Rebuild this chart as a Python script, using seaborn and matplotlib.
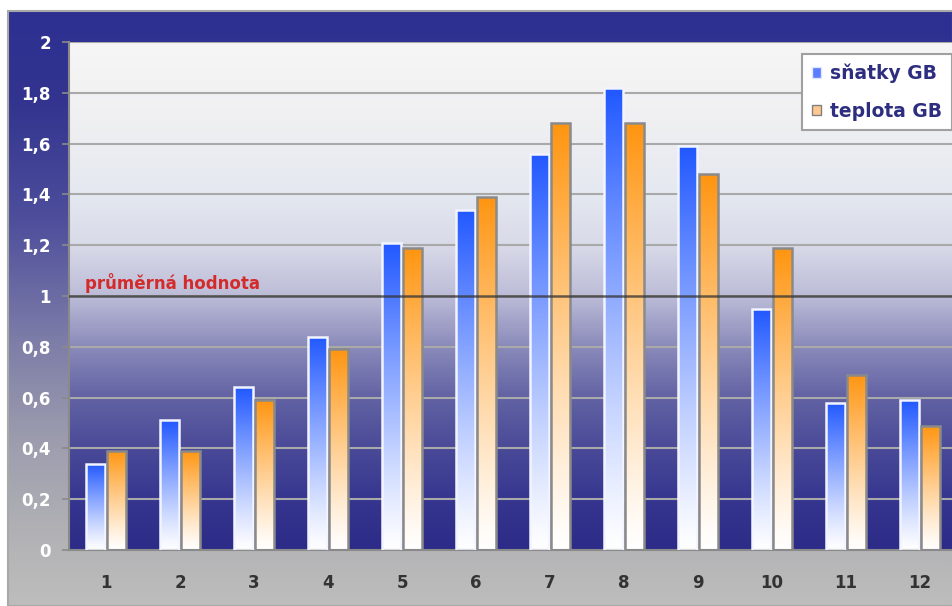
import numpy as np
import pandas as pd
import matplotlib.pyplot as plt
import seaborn as sns
from matplotlib.colors import LinearSegmentedColormap, to_rgb
from matplotlib.patches import Patch, Rectangle

# data
mesice = [str(i) for i in range(1, 13)]
snatky = [0.34, 0.51, 0.64, 0.84, 1.21, 1.34, 1.56, 1.82, 1.59, 0.95, 0.58, 0.59]
teplota = [0.39, 0.39, 0.59, 0.79, 1.19, 1.39, 1.68, 1.68, 1.48, 1.19, 0.69, 0.49]
serie = ['sňatky GB', 'teplota GB']
prumer = 1.0
y_ticks = [0, 0.2, 0.4, 0.6, 0.8, 1, 1.2, 1.4, 1.6, 1.8, 2]

df = pd.DataFrame({
    'mesic': mesice * 2,
    'hodnota': snatky + teplota,
    'serie': [serie[0]] * 12 + [serie[1]] * 12,
})

sns.set_style('white')
plt.rcParams['font.family'] = ['DejaVu Sans']

W, H = 953, 606
fig = plt.figure(figsize=(W / 100, H / 100), dpi=100)
fig.patch.set_facecolor('white')

# outer background: navy at top fading to grey at the bottom
bg_ax = fig.add_axes([8 / W, 0, 1 - 8 / W, 1 - 11 / H])
bg_cmap = LinearSegmentedColormap.from_list('bg', [
    (0.0, '#2E3092'), (0.15, '#32348F'), (0.35, '#4E4E9C'), (0.55, '#7C7CA8'),
    (0.72, '#9C9CAE'), (0.9, '#B4B4B6'), (1.0, '#BDBDBD')])
bg_ax.imshow(np.linspace(0, 1, 256)[:, None], cmap=bg_cmap, aspect='auto',
             extent=[0, 1, 0, 1], origin='upper')
bg_ax.set_axis_off()
bg_ax.add_patch(Rectangle((0, 0), 1, 1, transform=bg_ax.transAxes, fill=False,
                          edgecolor='#A8A8A8', lw=1.5, clip_on=False))

ax = fig.add_axes([69 / W, 56 / H, 888 / W, 508 / H])

plot_cmap = LinearSegmentedColormap.from_list('plot', [
    (0.0, '#2C2C88'), (0.1, '#363690'), (0.2, '#4A4A98'), (0.3, '#6262A4'),
    (0.4, '#8A8ABA'), (0.5, '#BCBCD8'), (0.6, '#D8DAE8'), (0.7, '#E4E8F0'),
    (0.85, '#F0F0F2'), (1.0, '#F6F6F6')])
ax.imshow(np.linspace(0, 1, 256)[:, None], cmap=plot_cmap, aspect='auto',
          extent=[-0.5, 11.5, 0, 2], origin='lower', zorder=0)

sns.barplot(data=df, x='mesic', y='hodnota', hue='serie', ax=ax,
            width=0.56, gap=0.08, legend=False, zorder=3)

# gradient fill of every bar: full colour at the top, white at the base
top_colors = ['#2158FF', '#FF9510']
edge_colors = ['#F2F4FF', '#8A8A8A']
t = np.linspace(0, 1, 200) ** 1.15
for cont, top_c, edge_c in zip(ax.containers, top_colors, edge_colors):
    c = np.array(to_rgb(top_c))
    grad = (1 - t)[:, None] * np.array([1, 1, 1]) + t[:, None] * c
    grad = grad[:, None, :]
    for bar in cont:
        x0, y0 = bar.get_x(), bar.get_y()
        w, h = bar.get_width(), bar.get_height()
        im = ax.imshow(grad, aspect='auto', origin='lower',
                       extent=[x0, x0 + w, y0, y0 + h], zorder=2.5)
        im.set_clip_path(bar)
        bar.set_facecolor('none')
        bar.set_edgecolor(edge_c)
        bar.set_linewidth(1.8)

ax.set_xlim(-0.5, 11.5)
ax.set_ylim(0, 2)

# grid
for yv in y_ticks[1:]:
    ax.axhline(yv, color='#A9A9A9', lw=1.5, zorder=1)
ax.axhline(prumer, color='#333333', lw=1.8, alpha=0.75, zorder=4)
ax.text(-0.28, prumer + 0.012, 'průměrná hodnota', color='#D42A2A',
        fontsize=12, fontweight='bold', va='bottom', ha='left', zorder=5)

ax.set_yticks(y_ticks)
ax.set_yticklabels([('%g' % v).replace('.', ',') for v in y_ticks],
                   color='white', fontsize=12, fontweight='bold')
ax.set_xticks(range(12))
ax.set_xticklabels(mesice, color='#333333', fontsize=12, fontweight='bold')
ax.set_xticks(np.arange(-0.5, 12, 1), minor=True)
ax.tick_params(axis='x', which='major', length=0, pad=17)
ax.tick_params(axis='x', which='minor', length=5, width=1.2, color='#8A8A8A',
               direction='out')
ax.tick_params(axis='y', length=5, width=1.2, color='#8A8A8A', pad=8,
               direction='out', left=True)
ax.set_xlabel('')
ax.set_ylabel('')
for side in ['top', 'right']:
    ax.spines[side].set_visible(False)
for side in ['left', 'bottom']:
    ax.spines[side].set_color('#8A8A8A')
    ax.spines[side].set_linewidth(1.5)

handles = [Patch(facecolor='#5A7CFF', edgecolor='#E0E6FF'),
           Patch(facecolor='#FFC890', edgecolor='#808080')]
leg = ax.legend(handles, serie, loc='upper right',
                bbox_to_anchor=(952 / W, 1 - 54 / H), bbox_transform=fig.transFigure,
                frameon=True, fancybox=False, framealpha=1, edgecolor='#A0A0A0',
                prop={'size': 13.5, 'weight': 'bold'}, labelcolor='#2E2E80',
                handlelength=0.5, handleheight=0.5, handletextpad=0.5,
                borderpad=0.5, labelspacing=1.0, borderaxespad=0)
leg.get_frame().set_linewidth(1.5)
leg.set_zorder(10)

fig.savefig('out.png', dpi=100)
